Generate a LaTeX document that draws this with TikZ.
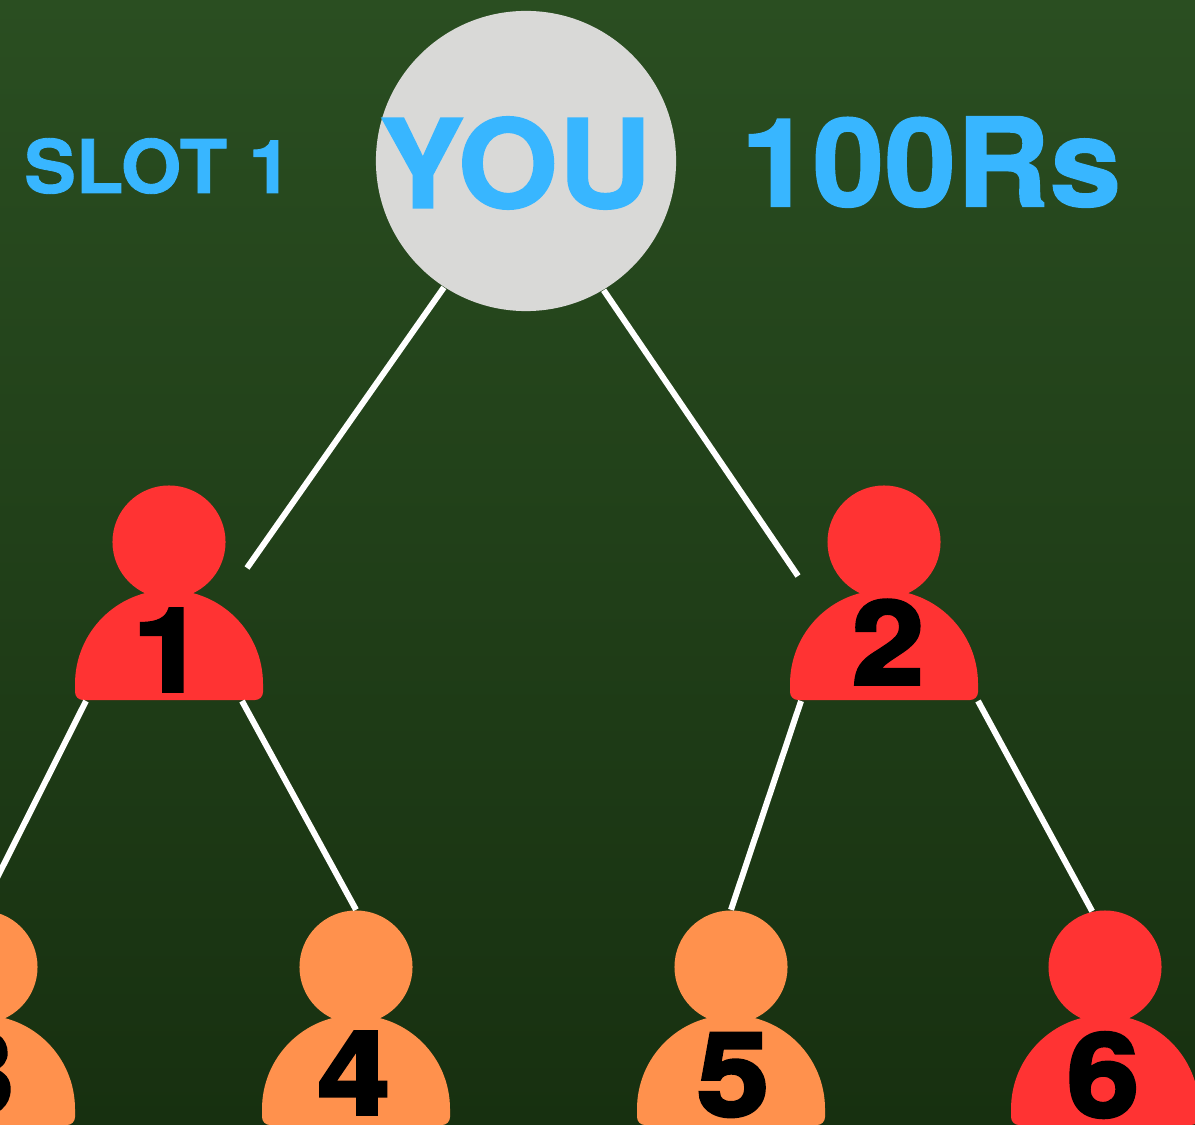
\documentclass[tikz,border=0pt]{standalone}
\usepackage{fontspec}
\setmainfont{TeX Gyre Heros}[BoldFeatures={FakeBold=1.2,FakeStretch=1.05}]
\newfontfamily\numfont{TeX Gyre Heros}[BoldFeatures={FakeBold=3,FakeStretch=1.12}]
\usepackage{tikz}
\definecolor{skyblue}{HTML}{38B6FF}
\definecolor{redperson}{HTML}{FF3333}
\definecolor{orangeperson}{HTML}{FF914D}
\definecolor{youcircle}{HTML}{D9D9D7}
\definecolor{boardtop}{HTML}{2A4E21}
\definecolor{boardmiddle}{HTML}{1F3D18}
\definecolor{boardbottom}{HTML}{173010}
\tikzset{
  head/.style = {circle, minimum size = 1.13cm, inner sep = 0pt},
  number/.style = {inner sep = 0pt, text = black, font = \numfont\bfseries\fontsize{33}{33}\selectfont},
  bluetext/.style = {inner sep = 0pt, text = skyblue, font = \bfseries\fontsize{35}{35}\selectfont},
  link/.style = {draw = white, line width = 0.06cm}
}

\begin{document}
\begin{tikzpicture}[x = 0.01cm, y = 0.01cm]
    % draw board
    \clip (0, 0) rectangle (1195, 1124);
    \shade[top color = boardtop, middle color = boardmiddle, bottom color = boardbottom] (0, 0) rectangle (1195, 1124);

    % draw top circle
    \node[circle, fill = youcircle, minimum size = 3cm, inner sep = 0pt] (you) at (526, 963) {};
    \node[bluetext] (youlabel) at (515, 961) {YOU};
    \node[bluetext] (amount) at (931, 962) {100Rs};
    \node[bluetext, font = \bfseries\fontsize{21}{21}\selectfont] (slot) at (158, 958) {SLOT 1};

    % draw persons of first row
    \node[head, fill = redperson] (person1) at (169, 582) {};
    \fill[redperson] (75, 440) arc [radius = 94, start angle = 180, delta angle = -180]
                 -- (263, 432) arc [radius = 8, start angle = 0, delta angle = -90]
                 -- (83, 424) arc [radius = 8, start angle = 270, delta angle = -90] -- cycle;
    \node[head, fill = redperson] (person2) at (884, 582) {};
    \fill[redperson] (790, 440) arc [radius = 94, start angle = 180, delta angle = -180]
                 -- (978, 432) arc [radius = 8, start angle = 0, delta angle = -90]
                 -- (798, 424) arc [radius = 8, start angle = 270, delta angle = -90] -- cycle;

    % draw persons of second row
    \node[head, fill = orangeperson] (person3) at (-19, 157) {};
    \fill[orangeperson] (-113, 15) arc [radius = 94, start angle = 180, delta angle = -180]
                 -- (75, 7) arc [radius = 8, start angle = 0, delta angle = -90]
                 -- (-105, -1) arc [radius = 8, start angle = 270, delta angle = -90] -- cycle;
    \node[head, fill = orangeperson] (person4) at (356, 157) {};
    \fill[orangeperson] (262, 15) arc [radius = 94, start angle = 180, delta angle = -180]
                 -- (450, 7) arc [radius = 8, start angle = 0, delta angle = -90]
                 -- (270, -1) arc [radius = 8, start angle = 270, delta angle = -90] -- cycle;
    \node[head, fill = orangeperson] (person5) at (731, 157) {};
    \fill[orangeperson] (637, 15) arc [radius = 94, start angle = 180, delta angle = -180]
                 -- (825, 7) arc [radius = 8, start angle = 0, delta angle = -90]
                 -- (645, -1) arc [radius = 8, start angle = 270, delta angle = -90] -- cycle;
    \node[head, fill = redperson] (person6) at (1105, 157) {};
    \fill[redperson] (1011, 15) arc [radius = 94, start angle = 180, delta angle = -180]
                 -- (1199, 7) arc [radius = 8, start angle = 0, delta angle = -90]
                 -- (1019, -1) arc [radius = 8, start angle = 270, delta angle = -90] -- cycle;

    % draw numbers
    \node[number] (num1) at (169, 474) {1};
    \node[number] (num2) at (888, 482) {2};
    \node[number] (num3) at (-22, 51) {3};
    \node[number] (num4) at (354, 51) {4};
    \node[number] (num5) at (733, 49) {5};
    \node[number] (num6) at (1103, 49) {6};

    % free ends of connectors
    \coordinate (end1) at (247, 556);
    \coordinate (end2) at (798, 548);
    \coordinate (foot1l) at (86, 423);
    \coordinate (foot1r) at (242, 423);
    \coordinate (foot2l) at (801, 423);
    \coordinate (foot2r) at (978, 423);

    % draw connectors
    \draw[link] (you.237) -- (end1);
    \draw[link] (you.301) -- (end2);
    \draw[link] (foot1l) -- (person3.north);
    \draw[link] (foot1r) -- (person4.north);
    \draw[link] (foot2l) -- (person5.north);
    \draw[link] (foot2r) -- (person6.103);
\end{tikzpicture}
\end{document}
